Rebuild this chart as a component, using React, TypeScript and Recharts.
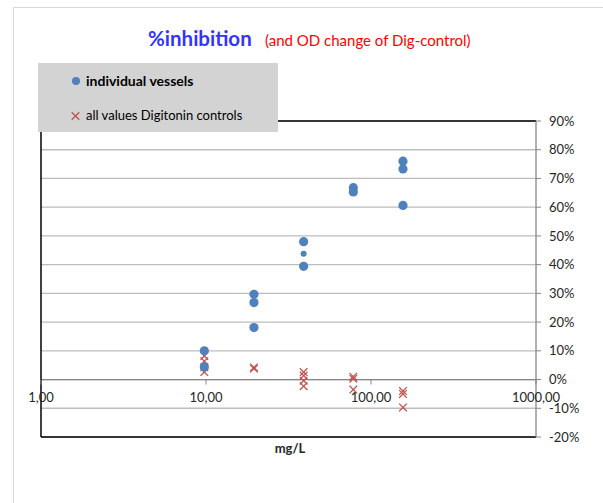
import React from 'react';
import {
  ScatterChart,
  Scatter,
  XAxis,
  YAxis,
  CartesianGrid,
  ReferenceLine,
} from 'recharts';

// concentrations (mg/L), dilution series
const VESSEL_CONC = [9.77, 9.77, 19.53, 19.53, 19.53, 39.06, 39.06, 78.13, 78.13, 156.25, 156.25, 156.25];
const VESSEL_INH = [10.0, 4.4, 29.7, 26.8, 18.1, 48.0, 39.4, 66.8, 65.3, 76.0, 73.3, 60.6];

// the smaller marker at 39 mg/L
const SMALL_CONC = [39.06];
const SMALL_INH = [43.8];

const DIG_CONC = [9.77, 9.77, 9.77, 9.77, 19.53, 19.53, 39.06, 39.06, 39.06, 39.06, 78.13, 78.13, 78.13, 156.25, 156.25, 156.25];
const DIG_OD = [8.2, 6.4, 4.3, 2.6, 4.2, 3.8, 2.6, 1.4, -0.4, -2.3, 1.0, 0.3, -3.5, -4.0, -5.0, -9.7];

const X_TICKS = [1, 10, 100, 1000];
const X_LABELS = ['1,00', '10,00', '100,00', '1000,00'];
const Y_TICKS = [-20, -10, 0, 10, 20, 30, 40, 50, 60, 70, 80, 90];

const Y_MIN = -20;
const Y_MAX = 90;
const PLOT_TOP = 121;
const PLOT_H = 316;
// x axis crosses at 0% -> distance from plot bottom
const ZERO_SHIFT = (PLOT_H * (0 - Y_MIN)) / (Y_MAX - Y_MIN);

const BLUE = '#4F81BD';
const RED = '#C0504D';
const FONT = 'Lato, "Open Sans", sans-serif';

const vessels = VESSEL_CONC.map((c, i) => ({ x: c, y: VESSEL_INH[i] }));
const small = SMALL_CONC.map((c, i) => ({ x: c, y: SMALL_INH[i] }));
const digControls = DIG_CONC.map((c, i) => ({ x: c, y: DIG_OD[i] }));

function Dot(props: any) {
  const { cx, cy } = props;
  return <circle cx={cx} cy={cy} r={4.6} fill={BLUE} />;
}

function SmallDot(props: any) {
  const { cx, cy } = props;
  return <circle cx={cx} cy={cy} r={3} fill={BLUE} />;
}

function Cross(props: any) {
  const { cx, cy } = props;
  const s = 3.8;
  return (
    <g stroke={RED} strokeWidth={1.25}>
      <line x1={cx - s} y1={cy - s} x2={cx + s} y2={cy + s} />
      <line x1={cx - s} y1={cy + s} x2={cx + s} y2={cy - s} />
    </g>
  );
}

function XTick(props: any) {
  const { x, y, payload } = props;
  const y0 = y - ZERO_SHIFT;
  const idx = X_TICKS.indexOf(payload.value);
  return (
    <g>
      <line x1={x} y1={y0} x2={x} y2={y0 + 5} stroke="#868686" strokeWidth={1} />
      <text x={x} y={y0 + 22} textAnchor="middle" fontSize={13} fill="#262626" fontFamily={FONT}>
        {X_LABELS[idx]}
      </text>
    </g>
  );
}

export default function App() {
  return (
    <div
      style={{
        position: 'absolute',
        left: 0,
        top: 0,
        width: 603,
        height: 503,
        overflow: 'hidden',
        background: '#fff',
        fontFamily: FONT,
      }}
    >
      <div
        style={{
          position: 'absolute',
          left: 13,
          top: 7,
          width: 800,
          height: 800,
          border: '1px solid #D9D9D9',
        }}
      />
      <div style={{ position: 'absolute', left: 0, top: 0 }}>
        <ScatterChart width={603} height={503} margin={{ top: PLOT_TOP, right: 7, bottom: 36, left: 41 }}>
          <CartesianGrid vertical={false} stroke="#BDBDBD" strokeWidth={1.3} />
          <XAxis
            dataKey="x"
            type="number"
            scale="log"
            domain={[1, 1000]}
            ticks={X_TICKS}
            allowDataOverflow
            axisLine={false}
            tickLine={false}
            tickSize={0}
            tickMargin={0}
            height={30}
            tick={<XTick />}
            interval={0}
          />
          <YAxis
            dataKey="y"
            type="number"
            orientation="right"
            domain={[Y_MIN, Y_MAX]}
            ticks={Y_TICKS}
            interval={0}
            width={60}
            axisLine={{ stroke: '#868686', strokeWidth: 1.3 }}
            tickLine={{ stroke: '#868686' }}
            tickSize={5}
            tickMargin={8}
            tick={{ fontSize: 13, fill: '#262626', fontFamily: FONT }}
            tickFormatter={(v: number) => `${v}%`}
          />
          <ReferenceLine y={0} stroke="#868686" strokeWidth={1.3} />
          <ReferenceLine y={Y_MAX} stroke="#000" strokeWidth={1.5} />
          <ReferenceLine y={Y_MIN} stroke="#000" strokeWidth={1.5} />
          <ReferenceLine x={1} stroke="#000" strokeWidth={1.5} />
          <Scatter name="all values Digitonin controls" data={digControls} shape={<Cross />} isAnimationActive={false} />
          <Scatter name="individual vessels" data={vessels} shape={<Dot />} isAnimationActive={false} />
          <Scatter name="individual vessels small" data={small} shape={<SmallDot />} isAnimationActive={false} />
        </ScatterChart>
      </div>
      <svg width={603} height={503} style={{ position: 'absolute', left: 0, top: 0, pointerEvents: 'none' }}>
        <text x={148} y={46} fontSize={20.5} fontWeight={700} fill="#3333FF" fontFamily={FONT}>
          %inhibition
        </text>
        <text x={265} y={46} fontSize={15} fill="#FF0000" fontFamily={FONT}>
          (and OD change of Dig-control)
        </text>
        <rect x={38} y={63} width={240} height={69} fill="#D3D3D3" />
        <circle cx={76} cy={81} r={4} fill={BLUE} />
        <text x={86} y={86} fontSize={14} fontWeight={700} fill="#000" fontFamily={FONT}>
          individual vessels
        </text>
        <Cross cx={75.5} cy={116} />
        <text x={86} y={120} fontSize={13} fill="#000" fontFamily={FONT}>
          all values Digitonin controls
        </text>
        <text x={290} y={453} fontSize={13} fontWeight={700} fill="#262626" textAnchor="middle" fontFamily={FONT}>
          mg/L
        </text>
      </svg>
    </div>
  );
}
